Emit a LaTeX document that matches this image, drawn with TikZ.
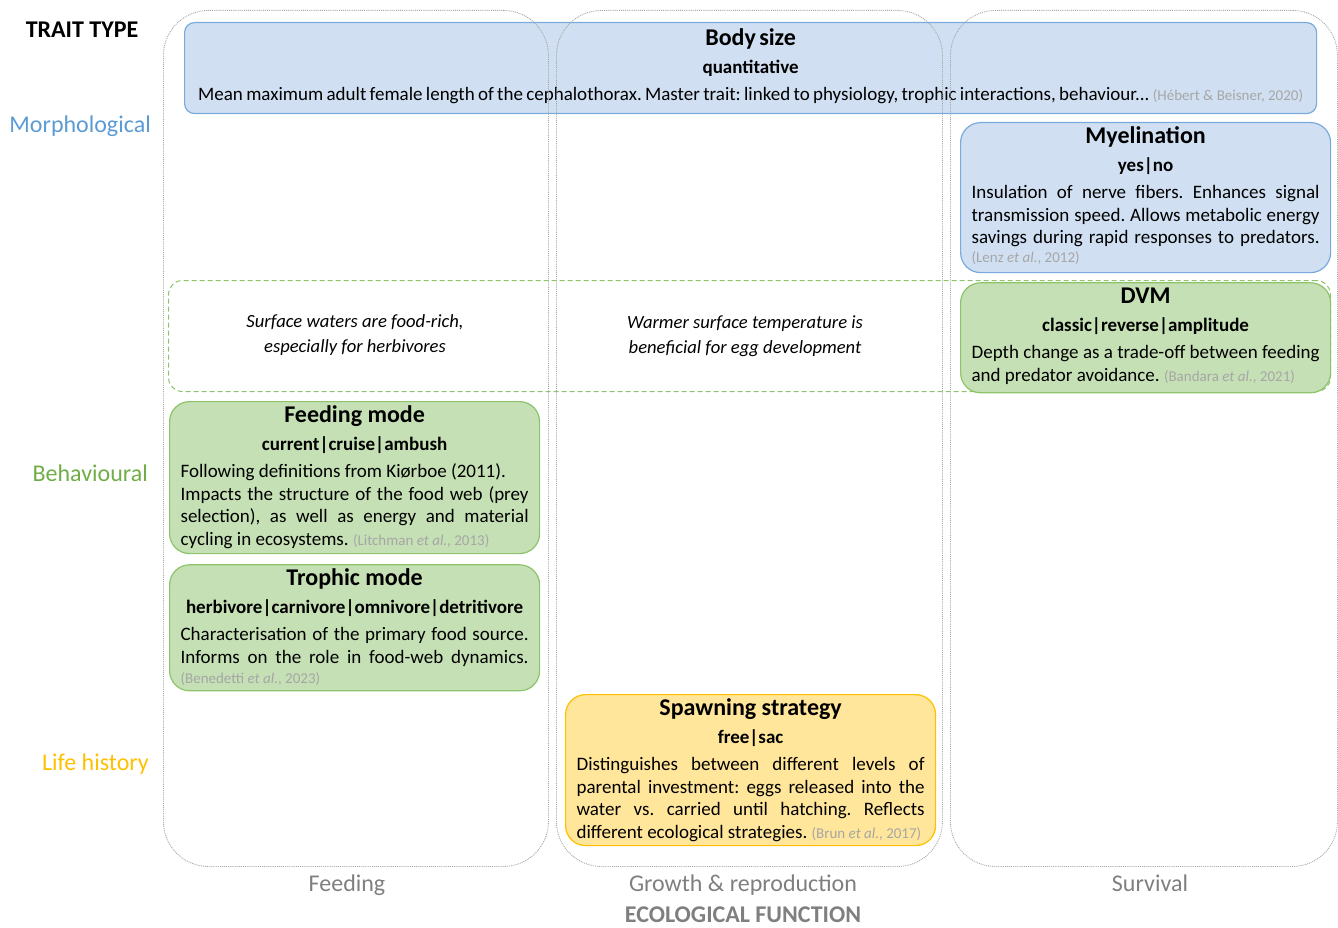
\documentclass[tikz,border=0pt]{standalone}
\usepackage{fontspec}
\setmainfont{Carlito}
\usetikzlibrary{positioning}
\definecolor{morphblue}{HTML}{5B9BD5}
\definecolor{morphfill}{HTML}{D0E0F2}
\definecolor{morphline}{HTML}{7AAADC}
\definecolor{behavgreen}{HTML}{70AD47}
\definecolor{behavfill}{HTML}{C5E0B4}
\definecolor{behavline}{HTML}{8DC46B}
\definecolor{lifeyellow}{HTML}{FFC000}
\definecolor{lifefill}{HTML}{FFE69A}
\definecolor{axisgray}{HTML}{7F7F7F}
\definecolor{citegray}{HTML}{A6A6A6}
\definecolor{colgray}{HTML}{A5A5A5}
\setlength{\parindent}{0pt}
\frenchspacing
\hyphenpenalty=10000
\tolerance=9999
\emergencystretch=3em
\newcommand{\cit}[1]{{\fontsize{15}{19}\selectfont\color{citegray}(#1)}}
\newcommand{\etal}{\textit{et al.}}
\newcommand{\fullline}{{\parfillskip=0pt\par}}
% [title drop], box height, title, values, description
\newcommand{\trait}[5][21]{%
  \vbox to #2pt{%
    {\centering\fontsize{24}{28}\selectfont\bfseries\rule{0pt}{#1pt}#3\par}%
    {\centering\fontsize{19}{28}\selectfont\bfseries #4\par}%
    \vspace{4.5pt}%
    {\fontsize{19}{22.5}\selectfont #5\par}%
    \vfil}}

\begin{document}
\begin{tikzpicture}[
  x=1pt, y=-1pt,
  trait/.style={draw, line width=1.2pt, rounded corners=20pt, anchor=north west,
                inner xsep=11pt, inner ysep=0pt, text width=348pt, align=justify},
  morph/.style={trait, fill=morphfill, draw=morphline},
  behav/.style={trait, fill=behavfill, draw=behavline},
  life/.style={trait, fill=lifefill, draw=lifeyellow},
  column/.style={draw=colgray, densely dotted, line width=0.9pt, rounded corners=45pt,
                 minimum height=856pt, inner sep=0pt, anchor=north west},
  zone/.style={draw=behavline, dash pattern=on 5pt off 3pt, line width=1pt,
               rounded corners=14pt, inner sep=0pt, anchor=north west},
  note/.style={font=\fontsize{18.6}{25}\selectfont\itshape, align=center},
  rowlabel/.style={font=\fontsize{24}{28}\selectfont, anchor=base east, inner sep=0pt},
  axislabel/.style={font=\fontsize{24}{28}\selectfont, text=axisgray, anchor=base, inner sep=0pt}
]
\useasboundingbox (0,0) rectangle (1338,928);

% ---------------- Trait type ----------------
\node[font=\fontsize{24}{28}\selectfont\bfseries] (traittype) at (82,30) {TRAIT TYPE};
\node[rowlabel, text=morphblue]  (morpho) at (151,133) {Morphological};
\node[rowlabel, text=behavgreen] (behav)  at (148,481) {Behavioural};
\node[rowlabel, text=lifeyellow] (life)   at (149,770) {Life history};

% ---------------- Surface zone ----------------
\node[zone, minimum width=1162pt, minimum height=111pt] (surface) at (168,280) {};
\node[note] (foodrich) at (355,335) {Surface waters are food-rich,\\especially for herbivores};
\node[note] (warm) at (745,336.5) {Warmer surface temperature is\\beneficial for egg development};

% ---------------- Morphological ----------------
\node[morph, rounded corners=10pt, inner xsep=7pt, text width=1118pt, align=center]
  (bodysize) at (184,22)
  {\trait[23]{91}{Body size}{quantitative}{Mean maximum adult female length of the cephalothorax. Master trait: linked to physiology, trophic interactions, behaviour... \cit{Hébert \& Beisner, 2020}}};
\node[morph] (myelin) at (960,122)
  {\trait{150}{Myelination}{yes|no}{Insulation of nerve fibers. Enhances signal transmission speed. Allows metabolic energy savings during rapid responses to predators.\fullline\vspace{-3.5pt}\cit{Lenz \etal, 2012}}};

% ---------------- Behavioural ----------------
\node[behav, below=9pt of myelin] (dvm)
  {\trait{110}{DVM}{classic|reverse|amplitude}{Depth change as a trade-off between feeding and predator avoidance. \cit{Bandara \etal, 2021}}};
\node[behav] (feedmode) at (169,401)
  {\trait{152}{Feeding mode}{current|cruise|ambush}{Following definitions from Kiørboe (2011).\par Impacts the structure of the food web (prey selection), as well as energy and material cycling in ecosystems. \cit{Litchman \etal, 2013}}};
\node[behav, below=10pt of feedmode] (trophic)
  {\trait{126}{Trophic mode}{herbivore|carnivore|omnivore|detritivore}{Characterisation of the primary food source. Informs on the role in food-web dynamics.\fullline\vspace{-2.5pt}\cit{Benedetti \etal, 2023}}};

% ---------------- Life history ----------------
\node[life] (spawning) at (565,694)
  {\trait{151}{Spawning strategy}{free|sac}{Distinguishes between different levels of parental investment: eggs released into the water vs. carried until hatching. Reflects different ecological strategies. \cit{Brun \etal, 2017}}};

% ---------------- Ecological function ----------------
\node[column, minimum width=385pt] (feeding)  at (163,10) {};
\node[column, minimum width=386pt] (growth)   at (556,10) {};
\node[column, minimum width=387pt] (survival) at (950,10) {};

\node[axislabel] (feedlab)   at (347,891)  {Feeding};
\node[axislabel] (growthlab) at (743,891)  {Growth \& reproduction};
\node[axislabel] (survlab)   at (1150,891) {Survival};
\node[axislabel, font=\fontsize{24}{28}\selectfont\bfseries] (ecofun) at (743,922)
  {ECOLOGICAL FUNCTION};

\end{tikzpicture}
\end{document}
